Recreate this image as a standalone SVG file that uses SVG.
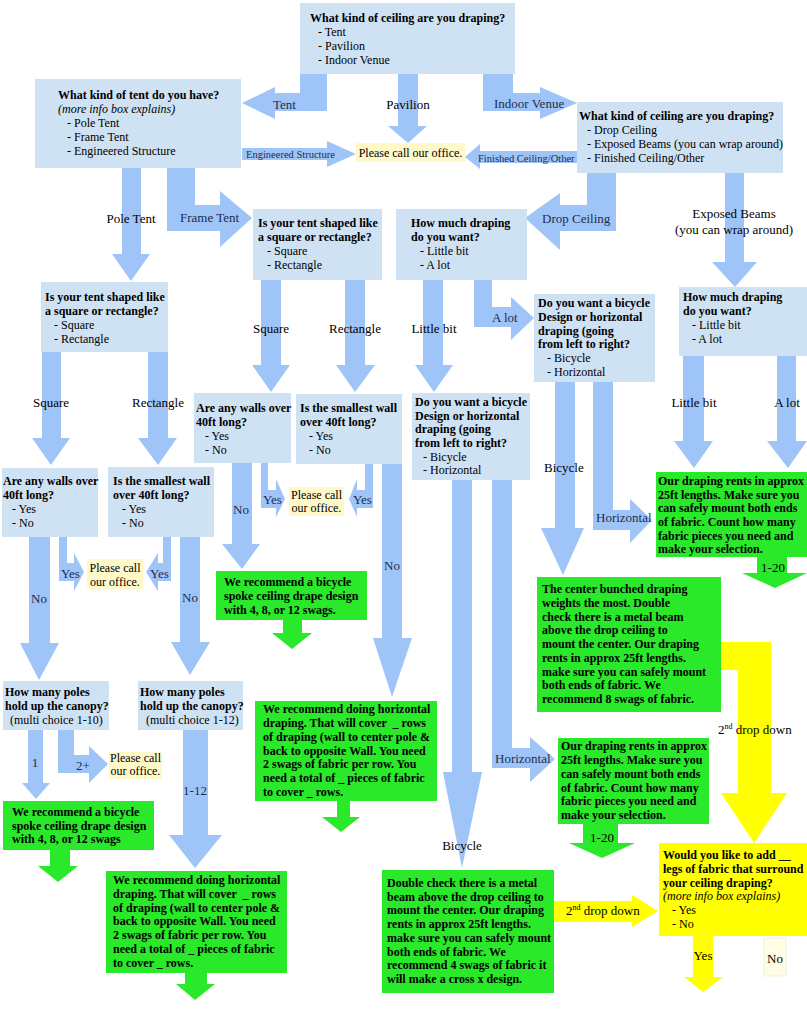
<svg xmlns="http://www.w3.org/2000/svg" width="807" height="1024" viewBox="0 0 807 1024">
<style>
text{font-family:"Liberation Serif","Times New Roman",serif;fill:#000}
.box{fill:#cfe2f3}
.arr{fill:#9fc5f8}
.grn{fill:#2ae82a}
.yel{fill:#ffff00}
.call{fill:#fff8c8}
.q{font-size:12px;font-weight:bold}
.t{font-size:12px}
.i{font-size:12px;font-style:italic}
.lbl{font-size:13px;fill:#1c2c4c}
.lblk{font-size:13px;fill:#000}
.sm{font-size:10.5px;fill:#1c2c4c}
.mid{text-anchor:middle}
</style>
<rect width="807" height="1024" fill="#fff"/>
<g id="connectors">
<polygon class="arr" points="300,74 327,74 327,111 275,111 275,119 242,103 275,87 275,93 300,93"/>
<polygon class="arr" points="398,74 418,74 418,126 427,126 408,143 388,126 398,126"/>
<polygon class="arr" points="483,74 513,74 513,93 540,93 540,87 577,103 540,119 540,111 483,111"/>
<polygon class="arr" points="242,148 327,148 327,141 356,154 327,167 327,160 242,160"/>
<polygon class="arr" points="577,151 480,151 480,144 465,157 480,169 480,163 577,163"/>
<polygon class="arr" points="587,173 616,173 616,231 560,231 560,250 525,218 560,193 560,205 587,205"/>
<polygon class="arr" points="725,173 744,173 744,262 757,262 735,287 712,262 725,262"/>
<polygon class="arr" points="122,168 141,168 141,254 150,254 131,281 112,254 122,254"/>
<polygon class="arr" points="167,168 195,168 195,205 220,205 220,191 252,218 220,247 220,231 167,231"/>
<polygon class="arr" points="42,352 61,352 61,438 70,438 51,465 32,438 42,438"/>
<polygon class="arr" points="148,352 168,352 168,438 177,438 158,465 138,438 148,438"/>
<polygon class="arr" points="261,280 281,280 281,365 290,365 271,392 252,365 261,365"/>
<polygon class="arr" points="345,280 365,280 365,365 375,365 355,392 336,365 345,365"/>
<polygon class="arr" points="423,280 443,280 443,365 453,365 434,392 415,365 423,365"/>
<polygon class="arr" points="474,280 492,280 492,307 511,307 511,297 534,318 511,340 511,327 474,327"/>
<polygon class="arr" points="683,356 704,356 704,441 713,441 694,468 674,441 683,441"/>
<polygon class="arr" points="777,356 796,356 796,441 807,441 788,468 767,441 777,441"/>
<polygon class="arr" points="555,382 575,382 575,528 584,528 563,575 541,528 555,528"/>
<polygon class="arr" points="593,382 613,382 613,510 630,510 630,499 652,520 630,543 630,530 593,530"/>
<polygon class="arr" points="452,480 472,480 472,772 482,772 462,868 443,772 452,772"/>
<polygon class="arr" points="492,480 512,480 512,748 530,748 530,737 555,759 530,782 530,768 492,768"/>
<polygon class="arr" points="232,463 252,463 252,544 260,544 242,569 222,544 232,544"/>
<polygon class="arr" points="261,463 268,463 268,490 276,490 276,479 285,499 276,517 276,508 261,508"/>
<polygon class="arr" points="365,464 373,464 373,508 357,508 357,517 349,499 357,479 357,490 365,490"/>
<polygon class="arr" points="382,464 402,464 402,638 412,638 392,697 373,638 382,638"/>
<polygon class="arr" points="29,537 50,537 50,643 59,643 39,680 20,643 29,643"/>
<polygon class="arr" points="59,537 67,537 67,563 74,563 74,553 84,572 74,591 74,581 59,581"/>
<polygon class="arr" points="163,537 171,537 171,581 158,581 158,591 146,572 158,553 158,563 163,563"/>
<polygon class="arr" points="180,537 200,537 200,642 210,642 190,675 171,642 180,642"/>
<polygon class="arr" points="28,730 43,730 43,783 50,783 36,799 22,783 28,783"/>
<polygon class="arr" points="58,730 74,730 74,755 89,755 89,746 108,764 89,783 89,773 58,773"/>
<polygon class="arr" points="183,730 208,730 208,835 222,835 195,868 169,835 183,835"/>
<polygon class="grn" points="50,850 70,850 70,866 78,866 58,882 38,866 50,866"/>
<polygon class="grn" points="185,973 207,973 207,984 215,984 195,1000 176,984 185,984"/>
<polygon class="grn" points="283,620 302,620 302,633 312,633 292,649 272,633 283,633"/>
<polygon class="grn" points="337,801 350,801 350,817 360,817 341,832 322,817 337,817"/>
<polygon class="grn" points="583,824 618,824 618,843 635,843 602,858 569,843 583,843"/>
<polygon class="grn" points="757,557 787,557 787,573 807,573 775,588 742,573 757,573"/>
<polygon class="yel" points="554,901 632,901 632,895 658,911 632,927 632,922 554,922"/>
<polygon class="yel" points="721,642 771,642 771,793 787,793 754,843 721,793 738,793 738,670 721,670"/>
<polygon class="yel" points="693,936 713,936 713,977 723,977 703,992 684,977 693,977"/>
<text class="lbl" x="273" y="109">Tent</text>
<text class="lblk mid" x="408" y="109">Pavilion</text>
<text class="lbl" x="494" y="108">Indoor Venue</text>
<text class="sm" x="246" y="158">Engineered Structure</text>
<text class="sm" x="478" y="162">Finished Ceiling/Other</text>
<text class="lbl" x="542" y="223">Drop Ceiling</text>
<text class="lblk mid" x="734" y="218">Exposed Beams</text>
<text class="lblk mid" x="734" y="234">(you can wrap around)</text>
<text class="lblk mid" x="131" y="223">Pole Tent</text>
<text class="lbl" x="180" y="222">Frame Tent</text>
<text class="lblk mid" x="51" y="407">Square</text>
<text class="lblk mid" x="158" y="407">Rectangle</text>
<text class="lblk mid" x="271" y="333">Square</text>
<text class="lblk mid" x="355" y="333">Rectangle</text>
<text class="lblk mid" x="434" y="333">Little bit</text>
<text class="lbl" x="492" y="322">A lot</text>
<text class="lblk mid" x="694" y="407">Little bit</text>
<text class="lblk mid" x="787" y="407">A lot</text>
<text class="lblk" x="544" y="472">Bicycle</text>
<text class="lbl" x="596" y="522">Horizontal</text>
<text class="lblk mid" x="462" y="850">Bicycle</text>
<text class="lbl" x="495" y="763">Horizontal</text>
<text class="lbl mid" x="241" y="514">No</text>
<text class="lbl" x="263" y="504">Yes</text>
<text class="lbl" x="353" y="504">Yes</text>
<text class="lbl mid" x="392" y="570">No</text>
<text class="lbl mid" x="39" y="603">No</text>
<text class="lbl" x="61" y="578">Yes</text>
<text class="lbl" x="150" y="578">Yes</text>
<text class="lbl mid" x="190" y="602">No</text>
<text class="lbl mid" x="35" y="767">1</text>
<text class="lbl" x="76" y="770">2+</text>
<text class="lbl mid" x="195" y="795">1-12</text>
<text class="lblk mid" x="602" y="842">1-20</text>
<text class="lblk mid" x="773" y="572">1-20</text>
<text class="lblk" x="566" y="915">2<tspan font-size="8" dy="-5">nd</tspan><tspan dy="5"> drop down</tspan></text>
<text class="lblk" x="718" y="734">2<tspan font-size="8" dy="-5">nd</tspan><tspan dy="5"> drop down</tspan></text>
<text class="lblk mid" x="703" y="960">Yes</text>
</g>
<g id="n-ceiling">
<rect class="box" x="300" y="3" width="215" height="71"/>
<text class="q" x="310" y="22">What kind of ceiling are you draping?</text>
<text class="t"><tspan x="318" y="36">- Tent</tspan><tspan x="318" y="50">- Pavilion</tspan><tspan x="318" y="64">- Indoor Venue</tspan></text>
</g>
<g id="n-tent">
<rect class="box" x="35" y="79" width="206" height="89"/>
<text class="q" x="58" y="99">What kind of tent do you have?</text>
<text class="i" x="58" y="113">(more info box explains)</text>
<text class="t"><tspan x="67" y="127">- Pole Tent</tspan><tspan x="67" y="141">- Frame Tent</tspan><tspan x="67" y="155">- Engineered Structure</tspan></text>
</g>
<g id="n-indoor">
<rect class="box" x="577" y="102" width="206" height="71"/>
<text class="q" x="579" y="120">What kind of ceiling are you draping?</text>
<text class="t"><tspan x="587" y="134">- Drop Ceiling</tspan><tspan x="587" y="148">- Exposed Beams (you can wrap around)</tspan><tspan x="587" y="162">- Finished Ceiling/Other</tspan></text>
</g>
<g id="n-call1">
<rect class="call" x="356" y="143" width="109" height="19"/>
<text class="t mid" x="410.5" y="157">Please call our office.</text>
</g>
<g id="n-shape-left">
<rect class="box" x="41" y="282" width="127" height="70"/>
<text class="q"><tspan x="45" y="301">Is your tent shaped like</tspan><tspan x="45" y="315">a square or rectangle?</tspan></text>
<text class="t"><tspan x="54" y="329">- Square</tspan><tspan x="54" y="343">- Rectangle</tspan></text>
</g>
<g id="n-shape-mid">
<rect class="box" x="253" y="209" width="129" height="71"/>
<text class="q"><tspan x="258" y="227">Is your tent shaped like</tspan><tspan x="258" y="241">a square or rectangle?</tspan></text>
<text class="t"><tspan x="267" y="255">- Square</tspan><tspan x="267" y="269">- Rectangle</tspan></text>
</g>
<g id="n-howmuch-mid">
<rect class="box" x="396" y="209" width="131" height="71"/>
<text class="q"><tspan x="411" y="227">How much draping</tspan><tspan x="411" y="241">do you want?</tspan></text>
<text class="t"><tspan x="420" y="255">- Little bit</tspan><tspan x="420" y="269">- A lot</tspan></text>
</g>
<g id="n-howmuch-right">
<rect class="box" x="679" y="287" width="128" height="69"/>
<text class="q"><tspan x="683" y="301">How much draping</tspan><tspan x="683" y="315">do you want?</tspan></text>
<text class="t"><tspan x="692" y="329">- Little bit</tspan><tspan x="692" y="343">- A lot</tspan></text>
</g>
<g id="n-design-alot">
<rect class="box" x="534" y="294" width="121" height="88"/>
<text class="q"><tspan x="538" y="307">Do you want a bicycle</tspan><tspan x="538" y="321">Design or horizontal</tspan><tspan x="538" y="335">draping (going</tspan><tspan x="538" y="348">from left to right?</tspan></text>
<text class="t"><tspan x="547" y="362">- Bicycle</tspan><tspan x="547" y="376">- Horizontal</tspan></text>
</g>
<g id="n-design-little">
<rect class="box" x="412" y="393" width="118" height="87"/>
<text class="q"><tspan x="415" y="406">Do you want a bicycle</tspan><tspan x="415" y="420">Design or horizontal</tspan><tspan x="415" y="433">draping (going</tspan><tspan x="415" y="447">from left to right?</tspan></text>
<text class="t"><tspan x="423" y="461">- Bicycle</tspan><tspan x="423" y="474">- Horizontal</tspan></text>
</g>
<g id="n-walls-mid">
<rect class="box" x="194" y="393" width="97" height="70"/>
<text class="q"><tspan x="196" y="412">Are any walls over</tspan><tspan x="196" y="426">40ft long?</tspan></text>
<text class="t"><tspan x="205" y="440">- Yes</tspan><tspan x="205" y="454">- No</tspan></text>
</g>
<g id="n-smallest-mid">
<rect class="box" x="296" y="394" width="106" height="70"/>
<text class="q"><tspan x="300" y="412">Is the smallest wall</tspan><tspan x="300" y="426">over 40ft long?</tspan></text>
<text class="t"><tspan x="309" y="440">- Yes</tspan><tspan x="309" y="454">- No</tspan></text>
</g>
<g id="n-call2">
<rect class="call" x="289" y="487" width="55" height="29"/>
<text class="t mid"><tspan x="316.5" y="499">Please call</tspan><tspan x="316.5" y="512">our office.</tspan></text>
</g>
<g id="n-walls-left">
<rect class="box" x="2" y="468" width="96" height="69"/>
<text class="q"><tspan x="3" y="485">Are any walls over</tspan><tspan x="3" y="499">40ft long?</tspan></text>
<text class="t"><tspan x="12" y="513">- Yes</tspan><tspan x="12" y="527">- No</tspan></text>
</g>
<g id="n-smallest-left">
<rect class="box" x="108" y="467" width="106" height="70"/>
<text class="q"><tspan x="113" y="485">Is the smallest wall</tspan><tspan x="113" y="499">over 40ft long?</tspan></text>
<text class="t"><tspan x="122" y="513">- Yes</tspan><tspan x="122" y="527">- No</tspan></text>
</g>
<g id="n-call3">
<rect class="call" x="87" y="559" width="56" height="30"/>
<text class="t mid"><tspan x="115" y="572">Please call</tspan><tspan x="115" y="586">our office.</tspan></text>
</g>
<g id="n-poles10">
<rect class="box" x="3" y="681" width="106" height="49"/>
<text class="q"><tspan x="5" y="696">How many poles</tspan><tspan x="5" y="710">hold up the canopy?</tspan></text>
<text class="t" x="10" y="724">(multi choice 1-10)</text>
</g>
<g id="n-poles12">
<rect class="box" x="138" y="681" width="105" height="49"/>
<text class="q"><tspan x="140" y="696">How many poles</tspan><tspan x="140" y="710">hold up the canopy?</tspan></text>
<text class="t" x="146" y="724">(multi choice 1-12)</text>
</g>
<g id="n-call4">
<rect class="call" x="109" y="752" width="53" height="27"/>
<text class="t mid"><tspan x="135.5" y="762">Please call</tspan><tspan x="135.5" y="775">our office.</tspan></text>
</g>
<g id="n-rec-bike-left">
<rect class="grn" x="3" y="801" width="151" height="49"/>
<text class="q"><tspan x="12" y="816">We recommend a bicycle</tspan><tspan x="12" y="830">spoke ceiling drape design</tspan><tspan x="12" y="843">with 4, 8, or 12 swags</tspan></text>
</g>
<g id="n-rec-horiz-left">
<rect class="grn" x="106" y="871" width="181" height="102"/>
<text class="q" xml:space="preserve"><tspan x="113" y="884">We recommend doing horizontal</tspan><tspan x="113" y="898">draping. That will cover  _ rows</tspan><tspan x="113" y="912">of draping (wall to center pole &amp;</tspan><tspan x="113" y="925">back to opposite Wall. You need</tspan><tspan x="113" y="939">2 swags of fabric per row. You</tspan><tspan x="113" y="953">need a total of _ pieces of fabric</tspan><tspan x="113" y="967">to cover _ rows.</tspan></text>
</g>
<g id="n-rec-bike-mid">
<rect class="grn" x="216" y="571" width="151" height="49"/>
<text class="q"><tspan x="224" y="586">We recommend a bicycle</tspan><tspan x="224" y="600">spoke ceiling drape design</tspan><tspan x="224" y="614">with 4, 8, or 12 swags.</tspan></text>
</g>
<g id="n-rec-horiz-mid">
<rect class="grn" x="255" y="701" width="182" height="100"/>
<text class="q" xml:space="preserve"><tspan x="263" y="713">We recommend doing horizontal</tspan><tspan x="263" y="727">draping. That will cover  _ rows</tspan><tspan x="263" y="741">of draping (wall to center pole &amp;</tspan><tspan x="263" y="755">back to opposite Wall. You need</tspan><tspan x="263" y="768">2 swags of fabric per row. You</tspan><tspan x="263" y="782">need a total of _ pieces of fabric</tspan><tspan x="263" y="796">to cover _ rows.</tspan></text>
</g>
<g id="n-double-check">
<rect class="grn" x="382" y="870" width="172" height="123"/>
<text class="q"><tspan x="387" y="887">Double check there is a metal</tspan><tspan x="387" y="901">beam above the drop ceiling to</tspan><tspan x="387" y="914">mount the center. Our draping</tspan><tspan x="387" y="928">rents in approx 25ft lengths.</tspan><tspan x="387" y="942">make sure you can safely mount</tspan><tspan x="387" y="956">both ends of fabric. We</tspan><tspan x="387" y="969">recommend 4 swags of fabric it</tspan><tspan x="387" y="983">will make a cross x design.</tspan></text>
</g>
<g id="n-rents-low">
<rect class="grn" x="558" y="738" width="151" height="86"/>
<text class="q"><tspan x="561" y="750">Our draping rents in approx</tspan><tspan x="561" y="764">25ft lengths. Make sure you</tspan><tspan x="561" y="778">can safely mount both ends</tspan><tspan x="561" y="792">of fabric. Count how many</tspan><tspan x="561" y="805">fabric pieces you need and</tspan><tspan x="561" y="819">make your selection.</tspan></text>
</g>
<g id="n-center-bunched">
<rect class="grn" x="537" y="577" width="184" height="135"/>
<text class="q"><tspan x="542" y="593">The center bunched draping</tspan><tspan x="542" y="607">weights the most. Double</tspan><tspan x="542" y="621">check there is a metal beam</tspan><tspan x="542" y="634">above the drop ceiling to</tspan><tspan x="542" y="648">mount the center. Our draping</tspan><tspan x="542" y="662">rents in approx 25ft lengths.</tspan><tspan x="542" y="676">make sure you can safely mount</tspan><tspan x="542" y="689">both ends of fabric. We</tspan><tspan x="542" y="703">recommend 8 swags of fabric.</tspan></text>
</g>
<g id="n-rents-right">
<rect class="grn" x="656" y="472" width="151" height="85"/>
<text class="q"><tspan x="658" y="485">Our draping rents in approx</tspan><tspan x="658" y="499">25ft lengths. Make sure you</tspan><tspan x="658" y="512">can safely mount both ends</tspan><tspan x="658" y="526">of fabric. Count how many</tspan><tspan x="658" y="540">fabric pieces you need and</tspan><tspan x="658" y="553">make your selection.</tspan></text>
</g>
<g id="n-legs">
<rect class="yel" x="659" y="843" width="148" height="93"/>
<text class="q"><tspan x="663" y="859">Would you like to add __</tspan><tspan x="663" y="873">legs of fabric that surround</tspan><tspan x="663" y="887">your ceiling draping?</tspan></text>
<text class="i" x="663" y="900">(more info box explains)</text>
<text class="t"><tspan x="672" y="914">- Yes</tspan><tspan x="672" y="928">- No</tspan></text>
</g>
<g id="n-no">
<rect x="764" y="938" width="22" height="38" fill="#fffde6" stroke="#eeeecc" stroke-width="0.8"/>
<text class="lblk" x="767" y="963">No</text>
</g>
</svg>
